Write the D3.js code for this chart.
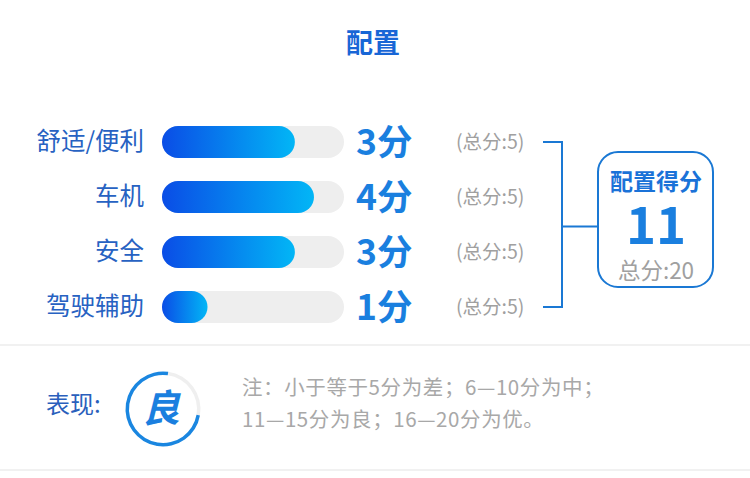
<!DOCTYPE html>
<html>
<head>
<meta charset="utf-8">
<script src="https://cdn.jsdelivr.net/npm/d3@7"></script>
<style>
  body { margin: 0; background: #fff; }
  svg { display: block; font-family: "Noto Sans CJK SC", "Noto Sans", sans-serif; }
</style>
</head>
<body>
<div id="chart"></div>
<script>
// data
const categories = ["舒适/便利", "车机", "安全", "驾驶辅助"];
const scores = [3, 4, 3, 1];
const maxScores = [5, 5, 5, 5];
const fillRates = [0.73, 0.835, 0.73, 0.25]; // bar fill as drawn
const totalScore = 11;
const totalMax = 20;
const gaugeFrac = 0.745; // share of the ring that is blue
const grade = "良";
const noteLines = ["注：小于等于5分为差；6—10分为中；", "11—15分为良；16—20分为优。"];

const W = 750, H = 478;
const svg = d3.select("#chart").append("svg").attr("width", W).attr("height", H);

// gradient for the bar fills
const defs = svg.append("defs");
const grad = defs.append("linearGradient").attr("id", "barGrad");
grad.append("stop").attr("offset", "0%").attr("stop-color", "#0a4de6");
grad.append("stop").attr("offset", "100%").attr("stop-color", "#02b6f6");

// title
svg.append("text")
  .attr("x", W / 2 - 2).attr("y", 53)
  .attr("text-anchor", "middle")
  .attr("font-size", 27).attr("font-weight", 700)
  .attr("fill", "#1866d6")
  .text("配置");

// scales
const trackX = 162, trackW = 182, barH = 32;
const y = d3.scalePoint().domain(categories).range([142, 307]);
const x = d3.scaleLinear().domain([0, 1]).range([0, trackW]);

const rows = svg.append("g").selectAll("g")
  .data(categories.map((c, i) => ({ cat: c, score: scores[i], max: maxScores[i], rate: fillRates[i] })))
  .join("g")
  .attr("transform", d => `translate(0,${y(d.cat)})`);

rows.append("text")
  .attr("x", 144).attr("y", 8)
  .attr("text-anchor", "end")
  .attr("font-size", 24.5)
  .attr("fill", "#2762c2")
  .text(d => d.cat);

rows.append("rect")
  .attr("x", trackX).attr("y", -barH / 2)
  .attr("width", x(1)).attr("height", barH)
  .attr("rx", barH / 2)
  .attr("fill", "#eeeeee");

rows.append("rect")
  .attr("x", trackX).attr("y", -barH / 2)
  .attr("width", d => x(d.rate)).attr("height", barH)
  .attr("rx", barH / 2)
  .attr("fill", "url(#barGrad)");

rows.append("text")
  .attr("x", 356).attr("y", 13)
  .attr("font-size", 35.5).attr("font-weight", 700)
  .attr("fill", "#1a7fdf")
  .text(d => d.score + "分");

rows.append("text")
  .attr("x", 456).attr("y", 7)
  .attr("font-size", 19.5)
  .attr("fill", "#a0a0a0")
  .text(d => `(总分:${d.max})`);

// bracket joining the rows to the total box
const yTop = y(categories[0]), yBot = y(categories[categories.length - 1]);
const yMid = (yTop + yBot) / 2;
const bracket = svg.append("g").attr("stroke", "#1a78d4").attr("stroke-width", 2).attr("fill", "none");
bracket.append("path")
  .attr("d", `M543,${yTop}H562V${yBot}H543M562,${yMid + 2}H597`);

// total box
const box = svg.append("g");
box.append("rect")
  .attr("x", 598).attr("y", 152)
  .attr("width", 115).attr("height", 135)
  .attr("rx", 20)
  .attr("fill", "#fff")
  .attr("stroke", "#1a78d4").attr("stroke-width", 2);
box.append("text")
  .attr("x", 656).attr("y", 190)
  .attr("text-anchor", "middle")
  .attr("font-size", 23).attr("font-weight", 700)
  .attr("fill", "#1a72d8")
  .text("配置得分");
box.append("text")
  .attr("x", 656).attr("y", 244)
  .attr("text-anchor", "middle")
  .attr("font-size", 51).attr("font-weight", 700)
  .attr("fill", "#1a7fdf")
  .text(totalScore);
box.append("text")
  .attr("x", 656).attr("y", 279)
  .attr("text-anchor", "middle")
  .attr("font-size", 22.5)
  .attr("fill", "#a0a0a0")
  .text("总分:" + totalMax);

// separators
svg.append("g").attr("stroke", "#ececec").attr("stroke-width", 1.5)
  .selectAll("line").data([345, 470]).join("line")
  .attr("x1", 0).attr("x2", W)
  .attr("y1", d => d).attr("y2", d => d);

// performance row
svg.append("text")
  .attr("x", 46).attr("y", 413)
  .attr("font-size", 24)
  .attr("fill", "#2a5fbc")
  .text("表现:");

const gauge = svg.append("g").attr("transform", "translate(163,409)");
const arc = d3.arc().innerRadius(34).outerRadius(37.5);
const gStart = 8 * Math.PI / 180;
const gSplit = gStart + (1 - gaugeFrac) * 2 * Math.PI;
gauge.append("path")
  .attr("d", arc({ startAngle: gStart, endAngle: gSplit }))
  .attr("fill", "#efefef");
gauge.append("path")
  .attr("d", arc({ startAngle: gSplit, endAngle: gStart + 2 * Math.PI }))
  .attr("fill", "#1a86e0");
gauge.append("text")
  .attr("x", -2).attr("y", 13)
  .attr("text-anchor", "middle")
  .attr("font-size", 38).attr("font-weight", 700)
  .attr("font-style", "italic")
  .attr("fill", "#1a7fdf")
  .text(grade);

svg.append("g").selectAll("text")
  .data(noteLines).join("text")
  .attr("x", 242).attr("y", (d, i) => 395 + i * 32)
  .attr("font-size", 20.5)
  .attr("letter-spacing", 0.6)
  .attr("fill", "#a8a8a8")
  .text(d => d);
</script>
</body>
</html>
